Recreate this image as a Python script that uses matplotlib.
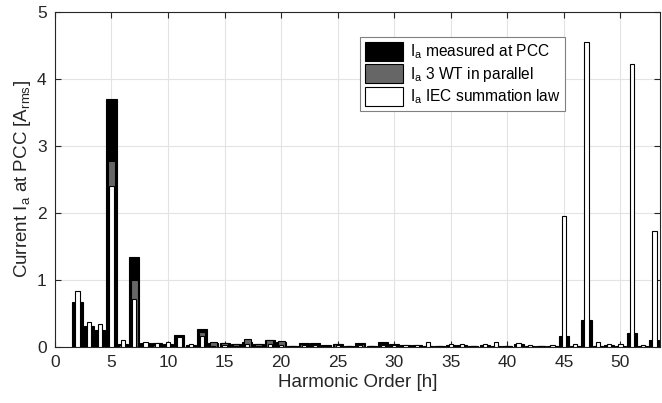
import numpy as np
import matplotlib
matplotlib.use("Agg")
import matplotlib.pyplot as plt

plt.rcParams['font.family'] = ['Liberation Sans', 'DejaVu Sans']
plt.rcParams['mathtext.default'] = 'regular'

# harmonic orders 2..53
order = list(range(2, 54))

measured = [0.67, 0.31, 0.26, 3.70, 0.04, 1.34, 0.06, 0.06, 0.04, 0.18,
            0.03, 0.27, 0.06, 0.06, 0.05, 0.07, 0.05, 0.11, 0.08, 0.02,
            0.06, 0.06, 0.03, 0.05, 0.02, 0.06, 0.02, 0.07, 0.04, 0.03,
            0.03, 0.02, 0.02, 0.03, 0.03, 0.02, 0.03, 0.02, 0.02, 0.05,
            0.02, 0.02, 0.02, 0.16, 0.02, 0.40, 0.02, 0.03, 0.02, 0.21,
            0.02, 0.10]

wt_parallel = [0.01, 0.01, 0.01, 2.78, 0.03, 1.00, 0.04, 0.03, 0.03, 0.14,
               0.02, 0.22, 0.07, 0.06, 0.05, 0.12, 0.05, 0.11, 0.09, 0.02,
               0.05, 0.05, 0.02, 0.04, 0.02, 0.05, 0.02, 0.05, 0.02, 0.02,
               0.02, 0.02, 0.02, 0.02, 0.02, 0.01, 0.02, 0.02, 0.01, 0.03,
               0.01, 0.01, 0.01, 0.02, 0.01, 0.02, 0.01, 0.01, 0.01, 0.02,
               0.01, 0.02]

iec_sum = [0.83, 0.38, 0.34, 2.40, 0.11, 0.71, 0.07, 0.06, 0.07, 0.15,
           0.05, 0.17, 0.02, 0.03, 0.02, 0.05, 0.02, 0.04, 0.03, 0.02,
           0.03, 0.03, 0.02, 0.03, 0.02, 0.03, 0.02, 0.03, 0.03, 0.03,
           0.03, 0.07, 0.02, 0.04, 0.04, 0.02, 0.04, 0.07, 0.02, 0.06,
           0.03, 0.02, 0.03, 1.95, 0.05, 4.55, 0.08, 0.05, 0.05, 4.22,
           0.03, 1.73]

fig = plt.figure(figsize=(6.62, 4.03), dpi=100)
ax = fig.add_axes([0.083, 0.139, 0.914, 0.831])

ax.bar(order, measured, width=0.9, color='black', edgecolor='black', linewidth=0.8,
       label=r'$I_a$ measured at PCC', zorder=2)
ax.bar(order, wt_parallel, width=0.6, color='#666666', edgecolor='black', linewidth=0.8,
       label=r'$I_a$ 3 WT in parallel', zorder=3)
ax.bar(order, iec_sum, width=0.38, color='white', edgecolor='black', linewidth=0.8,
       label=r'$I_a$ IEC summation law', zorder=4)

ax.set_xlim(0, 53.5)
ax.set_ylim(0, 5)
ax.set_xticks(range(0, 51, 5))
ax.set_yticks(range(0, 6))
ax.grid(True, color='#e3e3e3', linewidth=0.8, zorder=0)
ax.set_axisbelow(True)
ax.tick_params(direction='in', top=True, right=True, labelsize=12.5, length=4,
               colors='#262626', pad=6)
for s in ax.spines.values():
    s.set_color('#262626')
    s.set_linewidth(0.8)

ax.set_xlabel('Harmonic Order [h]', fontsize=13.5, color='#262626', labelpad=3)
ax.set_ylabel(r'Current $I_a$ at PCC [$A_{rms}$]', fontsize=13.5, color='#262626', labelpad=3)

leg = ax.legend(loc='upper left', bbox_to_anchor=(0.504, 0.925), borderaxespad=0,
                fontsize=11.2, frameon=True, fancybox=False, edgecolor='#808080',
                framealpha=1, handlelength=2.5, handleheight=1.5, borderpad=0.3,
                labelspacing=0.2, handletextpad=0.4)
leg.get_frame().set_linewidth(0.8)

fig.savefig('out.png', dpi=100)
